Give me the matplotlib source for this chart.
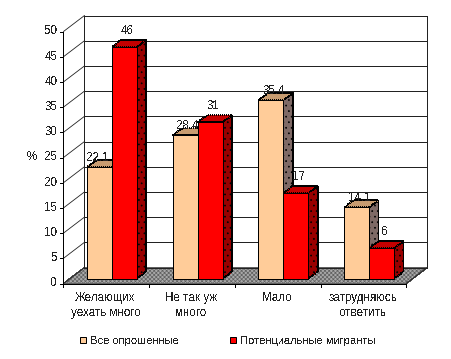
import numpy as np
import matplotlib
matplotlib.use('Agg')
import matplotlib.pyplot as plt
from matplotlib.patches import Polygon, Patch

plt.rcParams['font.family'] = ['Liberation Sans', 'DejaVu Sans']
plt.rcParams['font.size'] = 8.4
plt.rcParams['text.antialiased'] = False
plt.rcParams['hatch.linewidth'] = 0.5

categories = ['Желающих\nуехать много', 'Не так уж\nмного', 'Мало', 'затрудняюсь\nответить']
all_polled = [22.1, 28.4, 35.4, 14.1]
migrants = [46, 31, 17, 6]
series_names = ['Все опрошенные', 'Потенциальные мигранты']
yticks = [0, 5, 10, 15, 20, 25, 30, 35, 40, 45, 50]

W, H = 452, 359
x0, y0 = 63.5, 283.5   # front corner of the floor, px
cat_px = 85.7          # px per category
val_px = 5.04          # px per unit

fig = plt.figure(figsize=(W/100, H/100), dpi=100)
ax = fig.add_axes([0, 0, 1, 1])
ax.set_xlim(-x0/cat_px, (W-x0)/cat_px)
ax.set_ylim((y0-H)/val_px, y0/val_px)
ax.axis('off')

# depth of the box and of the bars, data units
wall_dx, wall_dy = 21/cat_px, 16/val_px
bar_dx, bar_dy = 9.3/cat_px, 7/val_px
base_dx, base_dy = 6/cat_px, 5/val_px
bar_w = 25/cat_px
gap = 17.6/cat_px
n = len(categories)
dark = '#222222'
thin = 0.72


def poly(pts, fc, ec='black', hatch=None, lw=thin, ls='-', z=2):
    ax.add_patch(Polygon(pts, closed=True, facecolor=fc, edgecolor=ec, hatch=hatch,
                         linewidth=lw, linestyle=ls, zorder=z, antialiased=False))


# floor
poly([(0, 0), (n, 0), (n+wall_dx, wall_dy), (wall_dx, wall_dy)], '#a8a8a8', '#606060', 'xxxxxxxx', 0.4, z=1)
# back wall and side
for v in yticks:
    ax.plot([wall_dx, n+wall_dx], [v+wall_dy]*2, color=dark, lw=thin, zorder=1.5, antialiased=False)
    ax.plot([0, wall_dx], [v, v+wall_dy], color=dark, lw=0.6, zorder=1.5)
ax.plot([wall_dx]*2, [wall_dy, 50+wall_dy], color=dark, lw=thin, zorder=1.5, antialiased=False)
ax.plot([n+wall_dx]*2, [wall_dy, 50+wall_dy], color=dark, lw=thin, zorder=1.5, antialiased=False)
ax.plot([n, n+wall_dx], [0, wall_dy], color=dark, lw=0.6, zorder=1.5)
# front axes and ticks
ax.plot([0, 0], [0, 50], color='black', lw=thin, zorder=1.6, antialiased=False)
ax.plot([0, n], [0, 0], color='black', lw=thin, zorder=1.6, antialiased=False)
for v in yticks:
    ax.plot([-3.5/cat_px, 0], [v, v], color='black', lw=thin, zorder=1.6, antialiased=False)
    ax.text(-6/cat_px, v, str(v), ha='right', va='center', color='#222222')
for i in range(n+1):
    ax.plot([i, i], [0, -3/val_px], color='black', lw=thin, zorder=1.6, antialiased=False)
for i, c in enumerate(categories):
    ax.text(i+0.49, -8.8/val_px, c, ha='center', va='top', color='#222222', linespacing=1.25)
ax.text(-32/cat_px, 25, '%', ha='center', va='center', color='#222222')


def bar(x, v, front, side, top, z):
    xl = x + base_dx
    xr = xl + bar_w
    yb = base_dy
    yt = yb + v
    poly([(xr, yb), (xr+bar_dx, yb+bar_dy), (xr+bar_dx, yt+bar_dy), (xr, yt)], side, 'black', '...', thin, ':', z)
    poly([(xl, yt), (xr, yt), (xr+bar_dx, yt+bar_dy), (xl+bar_dx, yt+bar_dy)], top, 'black', None, thin, ':', z)
    poly([(xl, yb), (xr, yb), (xr, yt), (xl, yt)], front, 'black', None, thin, '-', z+0.1)


# series are drawn category by category, so labels can sit between the bars
for i in range(n):
    x = i + gap
    z = 3 + i
    bar(x, all_polled[i], '#ffcc99', '#7f6a66', '#c89c70', z)
    nudge = -4 if i == 0 else 0
    ax.text(x + base_dx + (15+nudge)/cat_px, base_dy + all_polled[i] + 9.5/val_px, str(all_polled[i]),
            ha='center', va='center', color='#222222', zorder=z+0.2)
    bar(x + bar_w, migrants[i], '#ff0000', '#990000', '#c40000', z+0.4)
    ax.text(x + bar_w + base_dx + 15/cat_px, base_dy + migrants[i] + 16/val_px, str(migrants[i]),
            ha='center', va='center', color='#222222', zorder=z+0.6)

handles = [Patch(facecolor='#ffcc99', edgecolor='black', linewidth=thin),
           Patch(facecolor='#ff0000', edgecolor='black', linewidth=thin)]
ax.legend(handles, series_names, ncol=2, frameon=False, loc='center', fontsize=8.0,
          bbox_to_anchor=(228/W, 1-341/H), bbox_transform=fig.transFigure,
          handlelength=0.55, handleheight=0.55, handletextpad=0.35, columnspacing=4.6,
          labelcolor='#222222')

fig.savefig('out.png', dpi=100)
